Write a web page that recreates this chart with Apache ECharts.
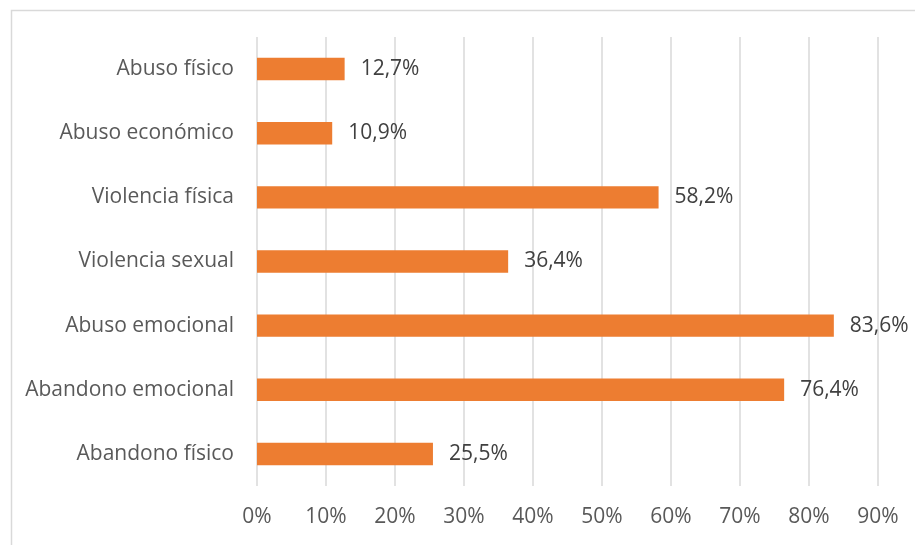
<!DOCTYPE html>
<html><head><meta charset="utf-8">
<script src="https://cdn.jsdelivr.net/npm/echarts@6/dist/echarts.min.js"></script>
<style>html,body{margin:0;padding:0;background:#fff}#c{width:915px;height:545px}</style>
</head><body><div id="c"></div>
<script>
const categories = ["Abuso físico","Abuso económico","Violencia física","Violencia sexual","Abuso emocional","Abandono emocional","Abandono físico"];
const values = [12.7, 10.9, 58.2, 36.4, 83.6, 76.4, 25.5];
const tickLabels = ["0%","10%","20%","30%","40%","50%","60%","70%","80%","90%"];

const chart = echarts.init(document.getElementById('c'), null, {renderer:'canvas'});
const FONT = 'Open Sans';
chart.setOption({
  animation:false,
  graphic:[{type:'rect', left:9, top:8, shape:{width:1000, height:1000}, style:{fill:'none', stroke:'#D9D9D9', lineWidth:1.5}, z:-1}],
  grid:{left:257, right:37, top:37, bottom:59},
  xAxis:{type:'value', min:0, max:90, interval:10,
    axisLine:{show:false}, axisTick:{show:false},
    splitLine:{show:true, lineStyle:{color:'#D9D9D9', width:1.5}},
    axisLabel:{color:'#595959', fontFamily:FONT, fontSize:21, margin:21,
      formatter:(v)=>tickLabels[Math.round(v/10)]}
  },
  yAxis:{type:'category', data:categories, inverse:true,
    axisLine:{show:false}, axisTick:{show:false},
    axisLabel:{color:'#595959', fontFamily:FONT, fontSize:21, margin:23}
  },
  series:[{type:'bar', data:values, barWidth:'35%',
    itemStyle:{color:'#ED7D31'},
    label:{show:true, position:'right', distance:16, color:'#404040', fontFamily:FONT, fontSize:21,
      formatter:(p)=>p.value.toFixed(1).replace('.',',')+'%'}
  }]
});
</script></body></html>
